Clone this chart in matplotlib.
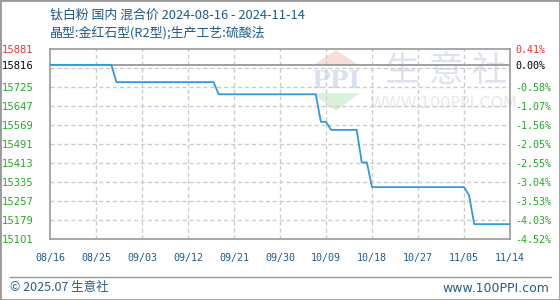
import matplotlib
matplotlib.use("Agg")
import matplotlib.pyplot as plt
from matplotlib.patches import Polygon, Rectangle
from matplotlib.lines import Line2D
import pandas as pd

plt.rcParams['font.family'] = ['Noto Sans CJK SC', 'DejaVu Sans']

# Price series (yuan/ton), daily points where the price moves
dates = ["2024-08-16", "2024-08-28", "2024-08-29", "2024-09-17", "2024-09-18",
         "2024-10-07", "2024-10-08", "2024-10-09", "2024-10-10", "2024-10-15",
         "2024-10-16", "2024-10-17", "2024-10-18", "2024-11-05", "2024-11-06",
         "2024-11-07", "2024-11-14"]
prices = [15816, 15816, 15745, 15745, 15695,
          15695, 15582, 15582, 15549, 15549,
          15415, 15415, 15314, 15314, 15280,
          15162, 15162]

base_price = 15816
y_min, y_max = 15101, 15881
grid_levels = [15101, 15179, 15257, 15335, 15413, 15491, 15569, 15647, 15725, 15803, 15881]
tick_levels = [15881, 15816, 15725, 15647, 15569, 15491, 15413, 15335, 15257, 15179, 15101]
x_ticks = ["2024-08-16", "2024-08-25", "2024-09-03", "2024-09-12", "2024-09-21",
           "2024-09-30", "2024-10-09", "2024-10-18", "2024-10-27", "2024-11-05",
           "2024-11-14"]

title1 = "钛白粉 国内 混合价 2024-08-16 - 2024-11-14"
title2 = "晶型:金红石型(R2型);生产工艺:硫酸法"

W, H = 560, 300
fig = plt.figure(figsize=(W / 100, H / 100), dpi=100)
fig.patch.set_facecolor("white")

def fx(px):
    return px / W

def fy(py):
    return 1 - py / H

ax = fig.add_axes([fx(50), fy(239), fx(510) - fx(50), fy(49) - fy(239)])
ax.patch.set_alpha(0)

xd = pd.to_datetime(dates)
xt = pd.to_datetime(x_ticks)
ax.set_xlim(xt[0], xt[-1])
ax.set_ylim(y_min, y_max)

# watermark logo and text
tf = fig.transFigure
def P(pts):
    return [(fx(a), fy(b)) for a, b in pts]

ax.add_patch(Polygon(P([(336, 50), (312, 66), (360, 66)]), closed=True,
                     facecolor="#f9ddd8", edgecolor="none", transform=tf, zorder=0.2, clip_on=False))
ax.add_patch(Polygon(P([(312, 93), (360, 93), (336, 111)]), closed=True,
                     facecolor="#dcf1dc", edgecolor="none", transform=tf, zorder=0.2, clip_on=False))
ax.text(fx(336), fy(81), "PPI", transform=tf, ha="center", va="center",
        fontsize=18, fontweight="bold", color="#dbe1ee", family="DejaVu Serif",
        zorder=0.2)
for cx, ch in zip([402, 446, 488], "生意社"):
    ax.text(fx(cx), fy(71), ch, transform=tf, ha="center", va="center",
            fontsize=25, color="#dde3ee", zorder=0.2)
ax.text(fx(443), fy(104), "WWW.100PPI.COM", transform=tf, ha="center", va="center",
        fontsize=11.5, color="#e8e8e8", family="DejaVu Sans", zorder=0.2)

# grid
for g in grid_levels[1:-1]:
    ax.axhline(g, color="#cccccc", lw=1, ls=(0, (3, 2)), zorder=1)
for t in xt[1:-1]:
    ax.axvline(t, color="#cccccc", lw=1, ls=(0, (3, 2)), zorder=1)
ax.axhline(base_price, color="#999999", lw=1.3, zorder=2)

ax.plot(xd, prices, color="#3399dd", lw=1.3, zorder=3)

for s in ax.spines.values():
    s.set_color("#999999")
    s.set_linewidth(1.2)

def tick_color(v):
    if v > base_price:
        return "#ee3333"
    if v == base_price:
        return "#000000"
    return "#22aa22"

ax.set_yticks(tick_levels)
ax.set_yticklabels([str(v) for v in tick_levels], fontsize=7.2, family="DejaVu Sans")
for lbl, v in zip(ax.get_yticklabels(), tick_levels):
    lbl.set_color(tick_color(v))
ax.tick_params(axis="y", length=0, pad=12)

ax.set_xticks(xt)
ax.set_xticklabels([t.strftime("%m/%d") for t in xt], fontsize=7.2,
                   family="DejaVu Sans Mono", color="#1f5b8e")
ax.tick_params(axis="x", length=0, pad=10)

ax2 = ax.twinx()
ax2.set_ylim(y_min, y_max)
ax2.set_yticks(tick_levels)
ax2.set_yticklabels(["%.2f%%" % ((v - base_price) / base_price * 100) for v in tick_levels],
                    fontsize=7.2, family="DejaVu Sans Mono")
for lbl, v in zip(ax2.get_yticklabels(), tick_levels):
    lbl.set_color(tick_color(v))
ax2.tick_params(axis="y", length=0, pad=4)
for s in ax2.spines.values():
    s.set_visible(False)

# titles
fig.text(fx(50), fy(15), title1, fontsize=9.3, color="#1f5b8e", ha="left", va="center")
fig.text(fx(50), fy(33), title2, fontsize=9.3, color="#1f5b8e", ha="left", va="center")

# footer
fig.add_artist(Line2D([fx(10), fx(551)], [fy(277), fy(277)], transform=tf,
                      color="#999999", lw=1))
fig.text(fx(10), fy(288), "© 2025.07 生意社", fontsize=9, color="#2b5c8a",
         ha="left", va="center")
fig.text(fx(549), fy(288), "www.100PPI.com", fontsize=9, color="#2b5c8a",
         ha="right", va="center", family="DejaVu Sans")

# outer frame
fig.add_artist(Rectangle((0, 0), 1, 1, transform=tf, fill=False,
                         edgecolor="#999999", lw=2))

fig.savefig("out.png", dpi=100)
